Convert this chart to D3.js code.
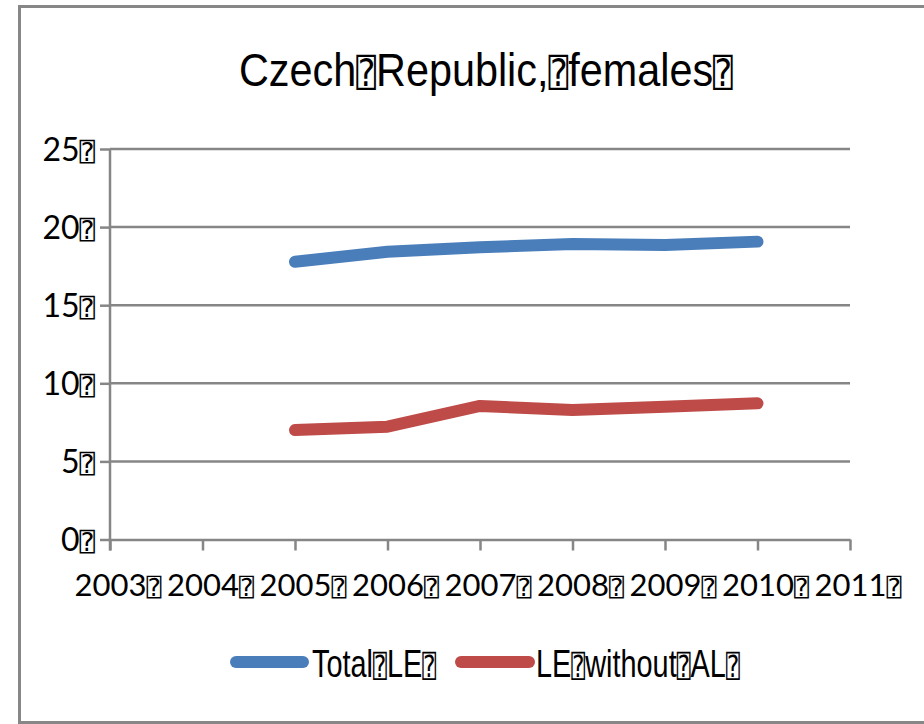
<!DOCTYPE html>
<html>
<head>
<meta charset="utf-8">
<script src="https://cdn.jsdelivr.net/npm/d3@7"></script>
<style>
  body { margin: 0; background: #fff; }
  svg { display: block; }
</style>
</head>
<body>
<svg id="chart"></svg>
<script>
// data
const years = [2005, 2006, 2007, 2008, 2009, 2010];
const totalLE = [17.78, 18.42, 18.71, 18.92, 18.85, 19.07];
const leWithoutAL = [7.01, 7.22, 8.55, 8.29, 8.5, 8.72];
const xTicks = [2003, 2004, 2005, 2006, 2007, 2008, 2009, 2010, 2011];
const yTicks = [0, 5, 10, 15, 20, 25];
const seriesNames = ["Total", "LE", "LE", "without", "AL"];

const BOX = "\u2370";
const width = 924;
const height = 724;
const gridColor = "#868686";
const blue = "#4a7ebb";
const red = "#be4b48";
const narrowFont = '"Liberation Sans Narrow", "Liberation Sans", sans-serif';

const svg = d3.select('#chart')
    .attr('width', width)
    .attr('height', height);

// outer frame
svg.append('rect')
    .attr('x', 19.5).attr('y', 6.5)
    .attr('width', 1000).attr('height', 716)
    .attr('fill', 'none')
    .attr('stroke', '#878787')
    .attr('stroke-width', 3);

// title (squeezed a bit, the original font is a narrow one)
const title = svg.append('text')
    .attr('transform', 'translate(486,86) scale(0.88,1)')
    .attr('text-anchor', 'middle')
    .style('font-family', narrowFont)
    .style('font-size', '47px')
    .attr('fill', '#000');
title.append('tspan').text('Czech');
title.append('tspan').attr('class', 'box').text(BOX);
title.append('tspan').text('Republic,');
title.append('tspan').attr('class', 'box').text(BOX);
title.append('tspan').text('females');
title.append('tspan').attr('class', 'box').text(BOX);

// scales
const x = d3.scaleLinear().domain([2003, 2011]).range([110, 850]);
const y = d3.scaleLinear().domain([0, 25]).range([539.5, 149]);

// gridlines
svg.append('g')
    .selectAll('line')
    .data(yTicks.filter(d => d > 0))
    .enter()
    .append('line')
    .attr('x1', x(2003)).attr('x2', x(2011))
    .attr('y1', d => y(d)).attr('y2', d => y(d))
    .attr('stroke', gridColor)
    .attr('stroke-width', 2.5);

// x axis
const xAxis = svg.append('g')
    .attr('transform', 'translate(0,' + y(0) + ')')
    .call(d3.axisBottom(x).tickValues(xTicks).tickSize(11).tickSizeOuter(0).tickFormat(''));
// y axis
const yAxis = svg.append('g')
    .attr('transform', 'translate(' + x(2003) + ',0)')
    .call(d3.axisLeft(y).tickValues(yTicks).tickSize(10).tickSizeOuter(0).tickFormat(''));
svg.selectAll('.domain, .tick line')
    .attr('stroke', gridColor)
    .attr('stroke-width', 2.5);
yAxis.select('.domain').attr('d', 'M0,' + y(25) + 'V' + (y(0) + 11));

// y labels
const yLab = svg.append('g')
    .selectAll('text')
    .data(yTicks)
    .enter()
    .append('text')
    .attr('x', 95)
    .attr('y', d => y(d) + 11.5)
    .attr('text-anchor', 'end')
    .style('font-family', 'Lato, sans-serif')
    .style('font-size', '32px');
yLab.append('tspan').text(d => d);
yLab.append('tspan').attr('class', 'box').text(BOX);

// x labels
const xLab = svg.append('g')
    .selectAll('text')
    .data(xTicks)
    .enter()
    .append('text')
    .attr('x', d => x(d) + 8)
    .attr('y', 596)
    .attr('text-anchor', 'middle')
    .style('font-family', 'Lato, sans-serif')
    .style('font-size', '31px');
xLab.append('tspan').text(d => d);
xLab.append('tspan').attr('class', 'box').text(BOX);

// lines
const line = d3.line()
    .x((d, i) => x(years[i]))
    .y(d => y(d));

[[totalLE, blue], [leWithoutAL, red]].forEach(function(s) {
    svg.append('path')
        .datum(s[0])
        .attr('d', line)
        .attr('fill', 'none')
        .attr('stroke', s[1])
        .attr('stroke-width', 12)
        .attr('stroke-linecap', 'round')
        .attr('stroke-linejoin', 'round');
});

// legend
const legend = [
    {words: seriesNames.slice(0, 2), color: blue, x1: 236, x2: 303, tx: 312},
    {words: seriesNames.slice(2), color: red, x1: 461, x2: 529, tx: 536}
];
legend.forEach(function(l) {
    svg.append('line')
        .attr('x1', l.x1).attr('x2', l.x2)
        .attr('y1', 662).attr('y2', 662)
        .attr('stroke', l.color)
        .attr('stroke-width', 12)
        .attr('stroke-linecap', 'round');
    const t = svg.append('text')
        .attr('transform', 'translate(' + l.tx + ',677) scale(0.76,1)')
        .style('font-family', narrowFont)
        .style('font-size', '38px');
    l.words.forEach(function(w) {
        t.append('tspan').text(w);
        t.append('tspan').attr('class', 'box').text(BOX);
    });
});

svg.selectAll('.box')
    .style('font-family', '"DejaVu Sans Mono", "DejaVu Sans", monospace')
    .style('font-size', '0.8em')
    .attr('fill', '#000');
</script>
</body>
</html>
